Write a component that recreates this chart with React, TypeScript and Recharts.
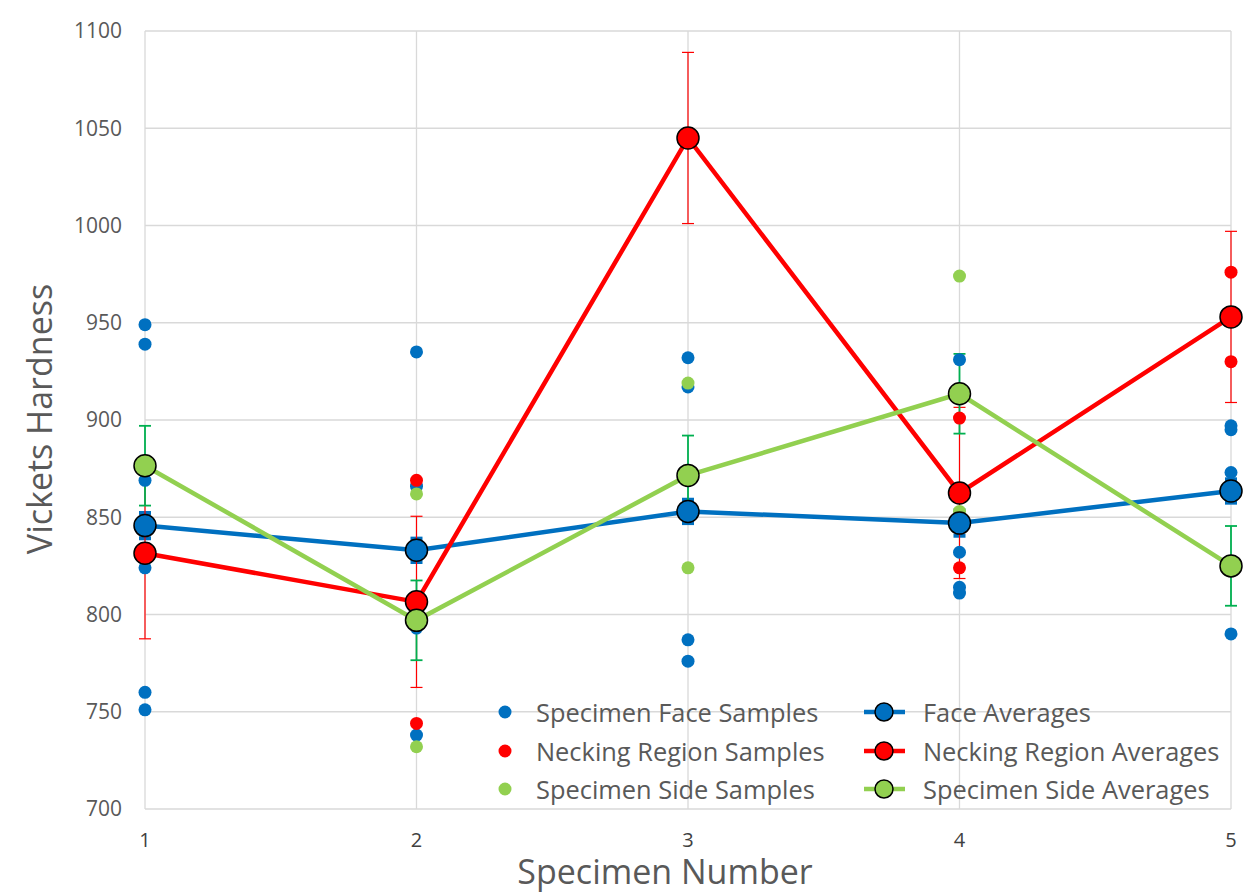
import {
  ComposedChart,
  Scatter,
  Line,
  XAxis,
  YAxis,
  CartesianGrid,
  ErrorBar,
} from "recharts";

const specimens = [1, 2, 3, 4, 5];
const yTicks = [700, 750, 800, 850, 900, 950, 1000, 1050, 1100];

// individual indents per specimen
const faceSamples = [
  [949, 939, 869, 828, 824, 760, 751],
  [935, 866, 793, 738],
  [932, 917, 787, 776],
  [931, 832, 814, 811],
  [897, 895, 873, 790],
];
const neckSamples = [[], [869, 744], [], [901, 824], [976, 930]];
const sideSamples = [[], [862, 732], [919, 824], [974, 853], []];

const faceAvg = [845.7, 833, 853, 847, 863.5];
const neckAvg = [831.5, 806.5, 1045, 862.5, 953];
const sideAvg = [876.5, 797, 871.5, 913.5, 825];

const faceErr = [6.5, 6, 6, 6.5, 6];
const neckErr = [44, 44, 44, 44, 44];
const sideErr = [20.5, 20.5, 20.5, 20.5, 20.5];

const BLUE = "#0070C0";
const RED = "#FF0000";
const GREEN = "#92D050";
const GREEN_ERR = "#00B050";
const TEXT = "#595959";
const FONT = "'Open Sans', sans-serif";

const toPoints = (groups: number[][]) =>
  groups.flatMap((vals, i) => vals.map((v) => ({ x: specimens[i], y: v })));

const toAvg = (avg: number[], err: number[]) =>
  avg.map((v, i) => ({ x: specimens[i], y: v, err: err[i] }));

const sampleDot = (fill: string) => (props: any) =>
  <circle cx={props.cx} cy={props.cy} r={6.5} fill={fill} />;

const legendSamples = [
  { name: "Specimen Face Samples", color: BLUE },
  { name: "Necking Region Samples", color: RED },
  { name: "Specimen Side Samples", color: GREEN },
];
const legendAverages = [
  { name: "Face Averages", color: BLUE },
  { name: "Necking Region Averages", color: RED },
  { name: "Specimen Side Averages", color: GREEN },
];

function ChartLegend() {
  const textStyle = { fontSize: 25.4, color: TEXT, whiteSpace: "nowrap" as const };
  return (
    <div style={{ position: "absolute", left: 482, top: 685, fontFamily: FONT }}>
      {legendSamples.map((s, i) => (
        <div key={s.name} style={{ display: "flex", alignItems: "center", height: 38.5 }}>
          <div style={{ width: 374, display: "flex", alignItems: "center" }}>
            <svg width={46} height={20}>
              <circle cx={15} cy={10} r={6.5} fill={s.color} />
            </svg>
            <span style={textStyle}>{s.name}</span>
          </div>
          <svg width={59} height={26}>
            <line x1={0} y1={13} x2={41} y2={13} stroke={legendAverages[i].color} strokeWidth={4.5} />
            <circle cx={20} cy={13} r={9} fill={legendAverages[i].color} stroke="#000" strokeWidth={1.5} />
          </svg>
          <span style={textStyle}>{legendAverages[i].name}</span>
        </div>
      ))}
    </div>
  );
}

const XTitle = (props: any) => {
  const { x, y, width } = props.viewBox;
  return (
    <text x={x + width / 2 - 23} y={y + 75} textAnchor="middle" fontSize={34} fill={TEXT} fontFamily={FONT}>
      Specimen Number
    </text>
  );
};

const YTitle = (props: any) => {
  const { x, y, height } = props.viewBox;
  const cx = x + 44;
  const cy = y + height / 2 - 1;
  return (
    <text x={cx} y={cy} transform={`rotate(-90, ${cx}, ${cy})`} textAnchor="middle" fontSize={34} fill={TEXT} fontFamily={FONT}>
      Vickets Hardness
    </text>
  );
};

export default function App() {
  return (
    <div
      style={{
        position: "relative",
        marginLeft: -1,
        marginTop: -1,
        width: 1253,
        height: 890,
        borderLeft: "1px solid #d9d9d9",
        borderTop: "1px solid #d9d9d9",
        background: "#fff",
      }}
    >
      <ComposedChart
        width={1245}
        height={885}
        margin={{ top: 23, right: 22, left: 0, bottom: 0 }}
        style={{ fontFamily: FONT }}
      >
        <CartesianGrid stroke="#d9d9d9" strokeWidth={1.3} />
        <XAxis
          dataKey="x"
          type="number"
          domain={[1, 5]}
          ticks={specimens}
          axisLine={false}
          tickLine={false}
          tickSize={0}
          tickMargin={24}
          height={84}
          tick={{ fontSize: 20, fill: "#404040" }}
          label={XTitle}
        />
        <YAxis
          dataKey="y"
          type="number"
          domain={[700, 1100]}
          ticks={yTicks}
          allowDataOverflow
          axisLine={false}
          tickLine={false}
          tickSize={0}
          tickMargin={23}
          width={137}
          tick={{ fontSize: 21, fill: TEXT }}
          label={YTitle}
        />
        <Scatter name="Specimen Face Samples" data={toPoints(faceSamples)} fill={BLUE} shape={sampleDot(BLUE)} isAnimationActive={false} />
        <Scatter name="Necking Region Samples" data={toPoints(neckSamples)} fill={RED} shape={sampleDot(RED)} isAnimationActive={false} />
        <Scatter name="Specimen Side Samples" data={toPoints(sideSamples)} fill={GREEN} shape={sampleDot(GREEN)} isAnimationActive={false} />
        <Line
          name="Face Averages"
          data={toAvg(faceAvg, faceErr)}
          dataKey="y"
          stroke={BLUE}
          strokeWidth={4.5}
          dot={{ r: 11, fill: BLUE, stroke: "#000", strokeWidth: 1.5 }}
          activeDot={false}
          isAnimationActive={false}
        >
          <ErrorBar dataKey="err" direction="y" width={6} stroke={BLUE} strokeWidth={4} />
        </Line>
        <Line
          name="Necking Region Averages"
          data={toAvg(neckAvg, neckErr)}
          dataKey="y"
          stroke={RED}
          strokeWidth={4.5}
          dot={{ r: 11, fill: RED, stroke: "#000", strokeWidth: 1.5 }}
          activeDot={false}
          isAnimationActive={false}
        >
          <ErrorBar dataKey="err" direction="y" width={6} stroke={RED} strokeWidth={1.2} />
        </Line>
        <Line
          name="Specimen Side Averages"
          data={toAvg(sideAvg, sideErr)}
          dataKey="y"
          stroke={GREEN}
          strokeWidth={4.5}
          dot={{ r: 11, fill: GREEN, stroke: "#000", strokeWidth: 1.5 }}
          activeDot={false}
          isAnimationActive={false}
        >
          <ErrorBar dataKey="err" direction="y" width={6} stroke={GREEN_ERR} strokeWidth={1.8} />
        </Line>
      </ComposedChart>
      <ChartLegend />
    </div>
  );
}
